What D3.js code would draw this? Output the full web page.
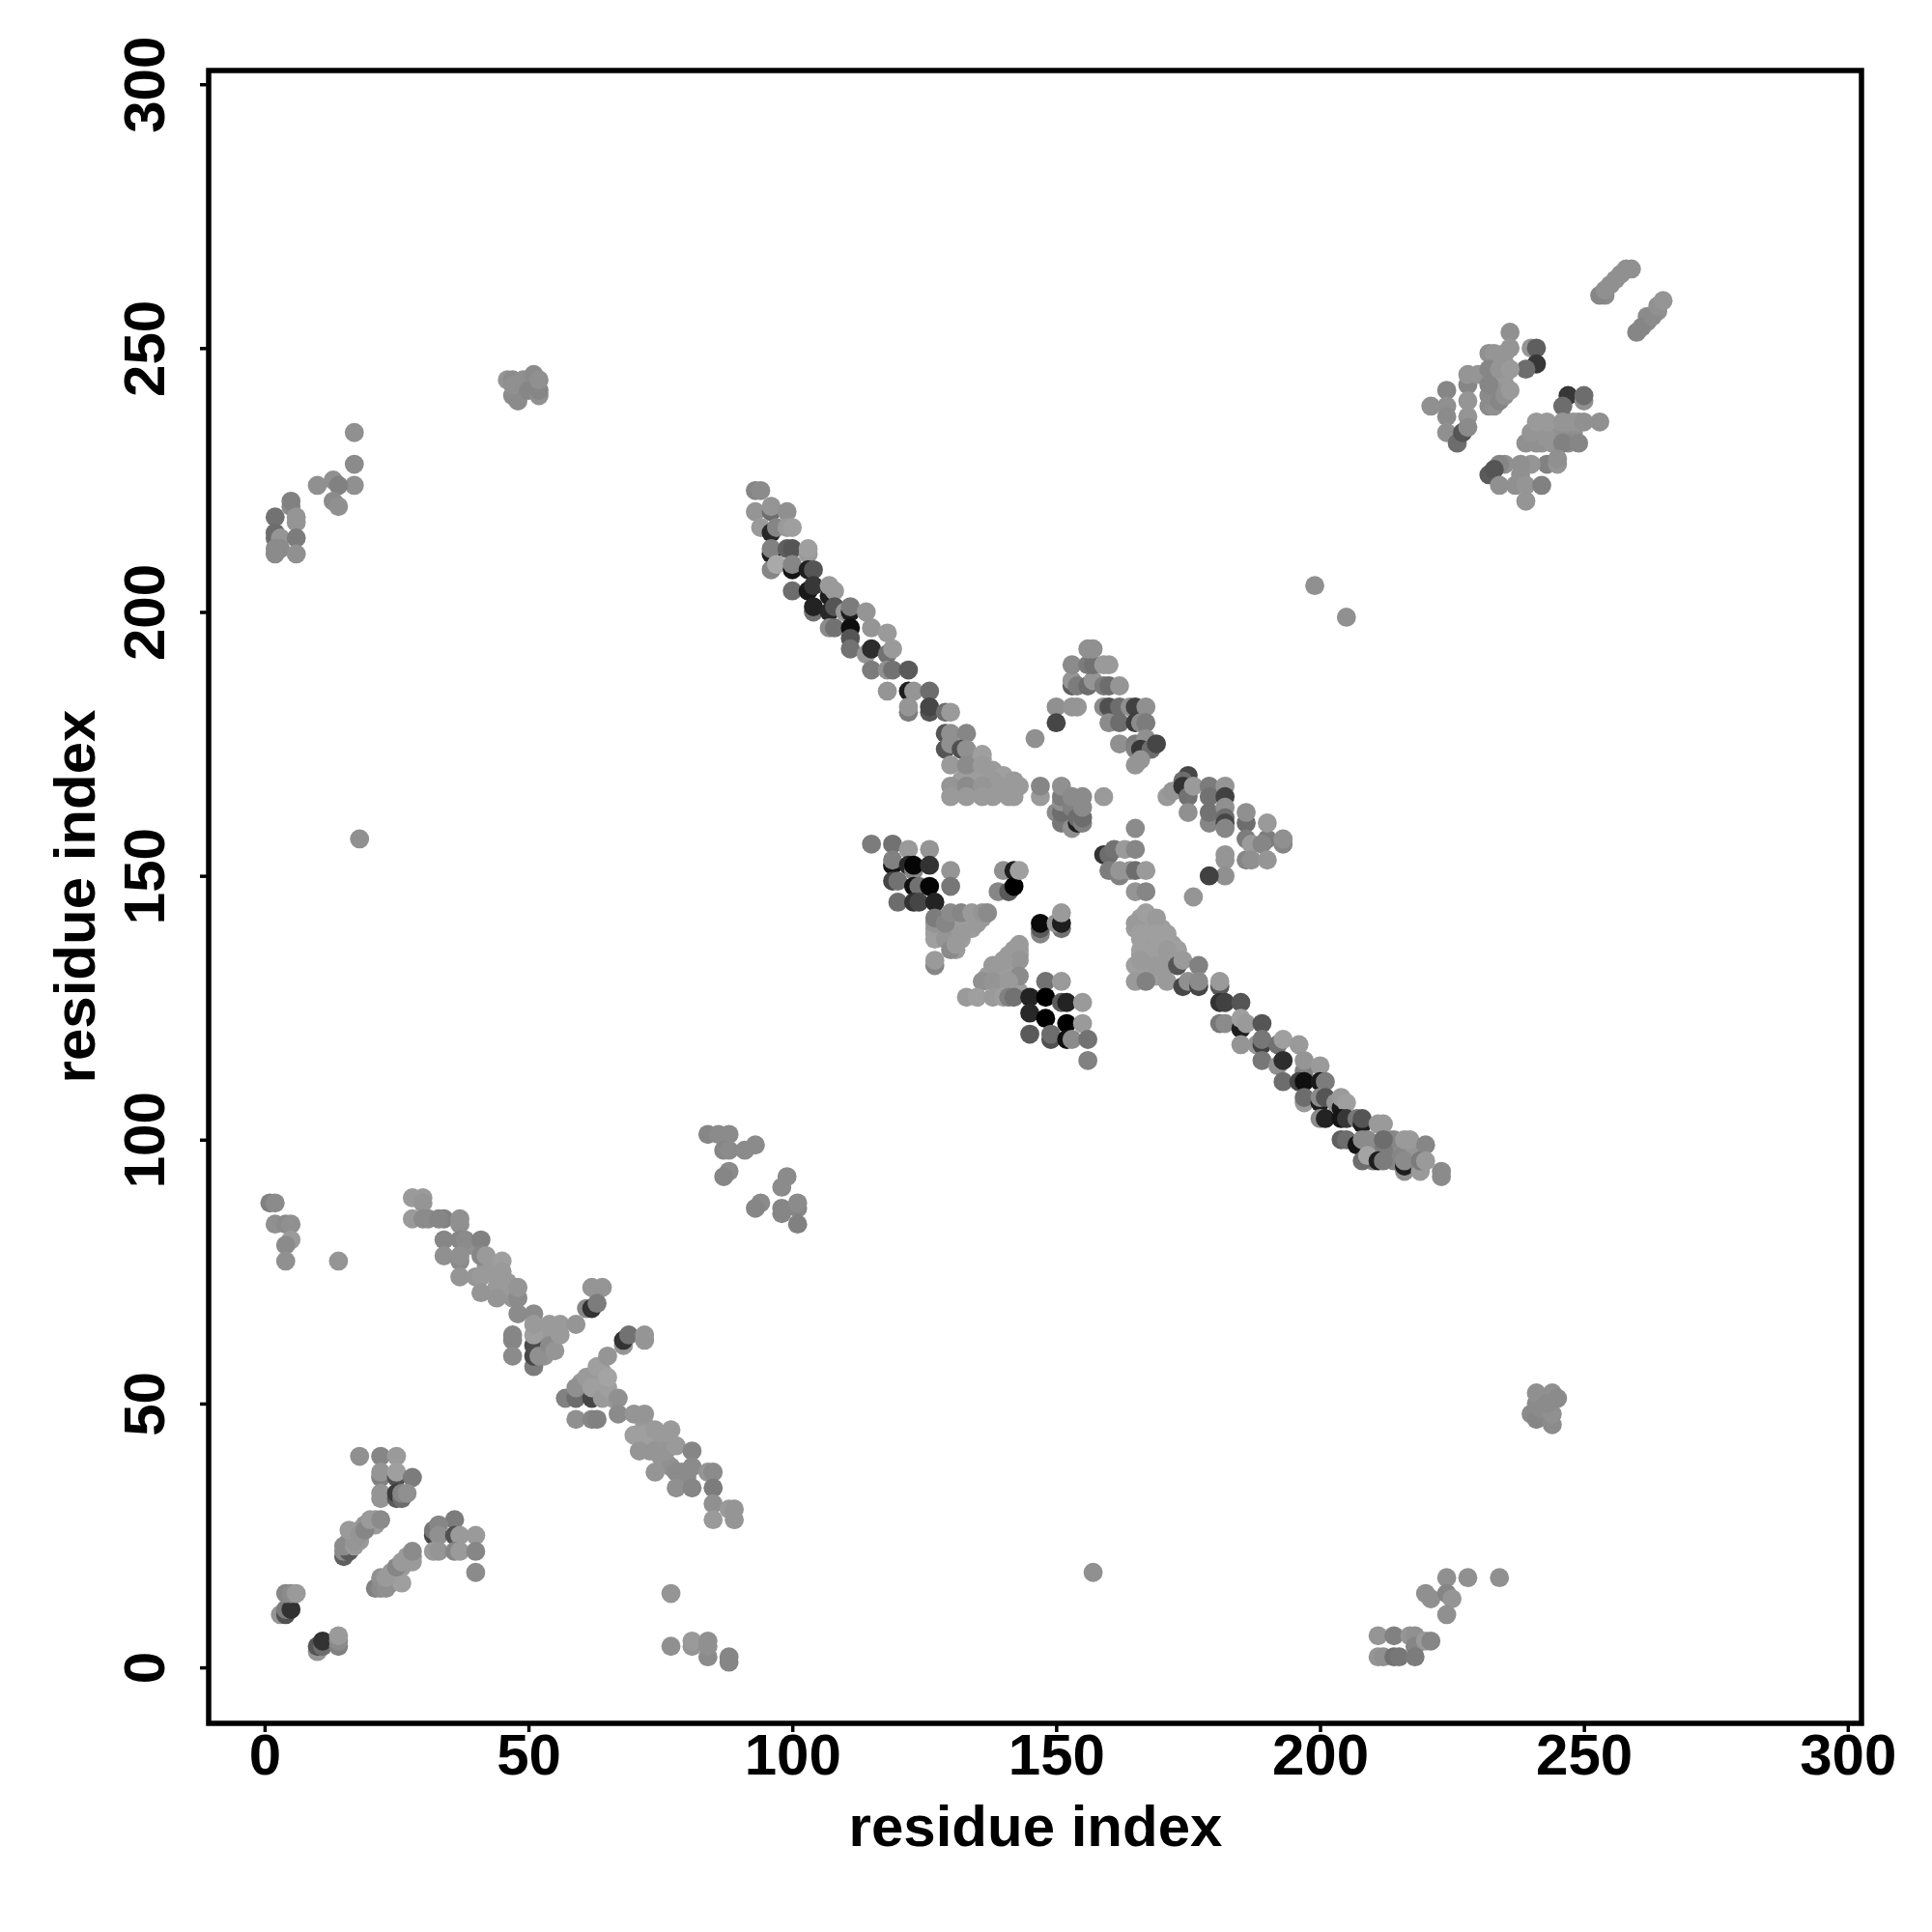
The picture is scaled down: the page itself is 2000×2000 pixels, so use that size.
<!DOCTYPE html>
<html><head><meta charset="utf-8">
<script src="https://cdn.jsdelivr.net/npm/d3@7"></script>
<style>html,body{margin:0;padding:0;background:#fff}svg{display:block}text{font-family:"Liberation Sans",Arial,sans-serif;font-weight:700;fill:#000}</style>
</head><body><div id="chart"></div>
<script>
const tickValues=[0,50,100,150,200,250,300];
const xTitle="residue index", yTitle="residue index";
// each contact: residue i, residue j, grey level
const fillTriangleUpper=[[131,166,148],[132,166,148],[134,166,148],[135,166,148],[137,166,148],[139,166,148],[140,166,148],[141,166,148],[132,168,148],[134,168,148],[135,168,148],[136,168,148],[137,168,148],[139,168,148],[140,168,148],[141,168,148],[133,170,148],[134,170,148],[135,170,148],[136,170,148],[137,170,148],[134,172,148],[135,172,148],[136,172,148]];
const fillTriangleLeft=[[127,139,148],[127,140,148],[128,142,148],[129,142,148],[130,142,148],[131,142,148],[132,142,148],[133,142,148],[134,142,148],[135,142,148],[136,142,148],[128,140,148],[130,140,148],[131,140,148],[132,140,148],[133,140,148],[134,140,148],[130,138,148],[131,138,148],[132,138,148],[131,136,148]];
const fillTriangleLower=[[143,136,148],[141,135,148],[142,135,148],[143,135,148],[139,133,148],[140,133,148],[141,133,148],[142,133,148],[137,131,148],[138,131,148],[139,131,148],[140,131,148],[141,131,148],[142,131,148],[139,129,148],[141,129,148],[142,129,148],[139,128,148],[141,128,148],[143,128,148]];
const fillTriangleRight=[[166,142,148],[168,142,148],[165,140,148],[166,140,148],[167,140,148],[168,140,148],[170,140,148],[166,138,148],[167,138,148],[168,138,148],[170,138,148],[171,138,148],[167,137,148],[169,137,148],[172,137,148],[166,135,148],[167,135,148],[168,135,148],[170,135,148],[172,135,148],[167,133,148],[168,133,148],[170,133,148],[166,132,148],[168,132,148],[170,132,148],[166,131,148],[168,131,148],[169,131,148],[170,131,148]];
const fillDiagLow=[[39,80,135],[42,76,140],[43,75,145],[43,76,145],[44,72,145],[46,73,145],[47,70,140],[46,71,140],[52,62,145],[53,64,145],[53,61,145],[52,64,145],[55,64,145],[54,63,145],[53,59,140],[60,54,145],[61,52,145],[62,55,148],[63,54,148],[63,52,148],[64,56,148],[63,55,148],[64,54,148],[65,52,148],[66,51,145],[73,45,145],[74,43,145],[75,43,145],[76,42,145],[72,46,145],[71,44,145],[73,41,140],[75,40,140],[76,39,140],[77,38,135],[79,37,135],[80,36,130],[76,41,140]];
const fillHelix=[[18,26,140],[21,28,145],[21,27,145],[16,24,145],[18,24,145],[19,27,140],[24,18,145],[25,18,145],[26,19,145],[27,21,145],[28,21,140],[24,16,140]];
const fillTop=[[233,243,140],[233,245,140],[233,247,140],[234,242,140],[234,244,145],[234,246,145],[234,248,140],[235,243,140],[235,245,145],[235,247,140],[235,249,140],[242,234,140],[244,234,140],[245,235,140],[247,234,135],[248,234,135],[244,232,140],[245,233,135],[242,232,140],[247,236,140],[248,236,140],[247,232,130],[255,262,135],[257,264,135],[254,260,130],[262,255,130],[262,256,130],[264,257,135]];
const fillDiagUp=[[210,99,130],[213,98,130],[214,97,125],[215,97,125],[214,100,130],[213,100,125],[218,98,140],[209,98,130],[210,96,125],[214,96,125]];
const singles=[[18,157,135],[157,18,135],[199,205,135],[205,199,135],[14,77,140],[77,14,140],[176,146,140],[146,176,135],[159,165,145]];
const cornerLowLeft=[[10,3,140],[10,4,85],[11,4,100],[11,5,50],[14,4,120],[14,5,130],[14,6,145],[3,10,140],[4,10,80],[4,11,115],[5,11,50],[4,14,125],[5,14,130],[6,14,145]];
const helixStripA=[[15,21,95],[15,22,130],[16,22,90],[15,23,130],[17,23,145],[17,24,140],[16,26,145],[18,25,140],[19,26,125],[20,28,145],[22,28,130]];
const helixStripB=[[21,15,120],[22,15,130],[23,15,135],[26,16,150],[22,17,135],[23,17,145],[25,19,125],[26,20,145],[28,20,145],[28,22,130]];
const blockUpper=[[18,40,135],[22,40,125],[25,40,145],[22,36,120],[22,37,140],[25,36,80],[25,37,150],[28,36,115],[22,32,140],[22,33,140],[25,32,90],[25,33,60],[26,32,100],[26,33,125],[27,33,135]];
const blockRight=[[36,28,115],[32,25,70],[32,26,110],[33,27,125],[33,25,135],[36,25,80],[37,25,145],[40,25,145],[32,22,145],[33,22,140],[36,22,125],[37,22,145],[40,22,125],[40,18,130]];
const diagLowA=[[1,88,120],[2,88,130],[2,84,135],[4,84,130],[5,84,135],[5,81,145],[4,80,130],[4,77,135],[28,89,145],[30,89,145],[30,88,140],[28,85,145],[30,85,130],[31,85,130],[34,85,120],[33,85,125],[37,84,135],[37,85,135],[34,81,125],[37,81,125],[38,81,130],[41,81,120],[34,78,135],[37,77,130],[37,78,135],[41,78,125],[42,78,145],[45,77,150],[37,74,140],[40,74,140],[41,74,145],[44,74,145],[45,75,145],[45,72,145],[41,71,140],[44,70,140],[48,70,130],[48,72,140],[48,67,130],[51,67,130]];
const diagLowB=[[47,62,125],[47,63,125],[47,59,130],[51,57,115],[51,59,70],[51,61,75],[52,59,135],[51,63,150],[51,65,145],[54,61,130],[54,65,145],[55,60,140],[56,63,145],[56,65,145],[59,65,140],[62,72,140],[64,72,140],[61,68,125],[62,68,50],[63,69,115],[68,61,140],[68,62,50],[69,63,105],[72,62,140],[72,63,140],[57,51,120],[59,51,100],[62,51,70],[59,53,135],[61,55,145],[62,53,150],[63,57,150],[64,51,145],[65,53,150],[65,55,155],[65,59,140],[67,51,135],[59,47,135],[62,47,125],[63,47,120],[67,48,130]];
const diagLowC=[[70,48,140],[72,48,140],[70,44,150],[72,44,150],[74,45,145],[77,45,145],[71,41,140],[74,41,140],[78,42,145],[81,41,125],[74,37,140],[78,37,130],[81,38,130],[78,34,135],[81,34,125],[84,37,140],[85,37,130],[85,34,115],[85,31,135],[85,28,145],[88,30,145],[89,30,140],[89,28,140],[77,4,135],[81,4,140],[81,5,145],[84,2,130],[84,4,135],[84,5,135],[88,1,125],[88,2,125]];
const midBlock=[[84,101,125],[86,101,130],[88,101,130],[87,98,125],[88,98,130],[91,98,130],[93,99,130],[88,94,130],[87,93,125],[99,93,130],[98,91,130],[94,88,130],[93,87,125],[98,86,125],[98,87,125],[101,87,125],[101,88,130],[101,84,120]];
const topLeft=[[17,234,135],[17,228,130],[10,224,135],[17,224,135],[13,225,135],[14,224,120],[13,221,130],[14,220,135],[5,220,130],[5,221,120],[6,217,140],[6,218,140],[2,218,105],[2,214,100],[2,215,100],[3,214,140],[6,214,115],[2,212,130],[3,212,130],[6,211,135],[2,211,130]];
const topLeftBlob=[[46,244,140],[47,244,130],[47,241,130],[48,240,130],[47,243,135],[49,244,135],[50,242,125],[51,245,130],[52,241,135],[52,242,125],[52,244,135]];
const lowRightBlob=[[240,48,130],[241,47,125],[241,50,130],[241,52,135],[242,49,130],[244,46,130],[244,48,135],[244,52,135],[245,51,130],[243,50,130]];
const lowRight=[[224,17,135],[228,17,135],[234,17,135],[220,14,135],[221,13,135],[224,14,125],[225,13,140],[224,10,135],[211,6,140],[214,6,120],[217,6,140],[218,6,135],[218,4,125],[220,5,145],[221,5,125],[211,2,140],[212,2,135],[214,2,105],[215,2,110],[218,2,115]];
const topStrips=[[253,260,125],[254,261,135],[256,263,135],[258,265,135],[259,265,135],[260,253,125],[261,254,125],[263,256,130],[264,258,135],[265,259,140]];
const topCluster=[[236,253,135],[240,250,140],[241,250,95],[241,247,55],[239,246,100],[236,250,140],[232,249,135],[233,249,140],[228,243,125],[228,245,140],[230,245,140],[232,246,125],[234,246,140],[236,246,145],[232,239,130],[233,239,135],[232,241,130],[232,243,125],[234,240,125],[235,241,135],[236,242,145],[224,242,125],[221,239,135],[224,239,135],[224,237,130],[228,240,140],[228,237,140],[224,234,135],[226,232,100],[227,234,85],[228,235,130]];
const topClusterLow=[[247,241,55],[246,239,100],[250,240,135],[250,241,100],[253,236,135],[239,232,135],[241,232,135],[240,234,140],[241,236,145],[243,233,140],[243,236,145],[246,232,120],[246,236,140],[249,232,125],[249,236,140],[250,236,135],[243,228,120],[245,228,140],[245,229,135],[240,228,140],[238,228,135],[235,228,135],[234,228,125],[232,226,90],[233,227,85],[234,224,135],[237,224,135],[238,226,135],[239,224,140],[242,224,120],[239,221,140]];
const upperDiagA=[[93,223,125],[94,223,130],[93,219,140],[96,219,100],[96,220,140],[99,219,135],[94,216,145],[96,215,40],[97,216,125],[99,216,145],[100,216,150],[96,211,30],[96,212,120],[99,212,95],[100,212,85],[103,211,145],[103,212,150],[96,208,125],[97,209,160],[100,208,20],[100,209,125],[100,204,100],[103,208,30],[104,208,85],[103,204,25],[104,205,55],[104,200,105],[104,201,35]];
const upperDiagB=[[107,203,30],[107,205,145],[108,204,145],[107,200,40],[107,197,130],[108,197,105],[108,201,85],[110,200,145],[111,200,30],[111,201,115],[111,197,15],[111,195,85],[114,200,140],[115,197,140],[111,193,105],[114,192,140],[115,193,45],[118,196,145],[118,192,105],[119,193,145],[115,189,115],[118,189,135],[119,189,105],[122,189,90],[118,185,140],[122,185,30],[123,185,140],[126,185,100],[122,181,115],[122,182,140],[126,181,85],[126,182,70],[129,181,100],[130,181,145]];
const triangleUpper=[[129,177,85],[130,177,135],[133,177,125],[129,174,85],[130,175,135],[132,174,80],[133,174,135],[136,173,150],[130,171,145],[133,171,130],[136,171,145],[138,170,145],[140,169,150],[138,168,145],[142,168,145],[130,167,140],[133,167,130],[136,167,140],[140,167,145],[143,167,145],[130,165,145],[133,165,145],[136,165,145],[138,165,145],[141,165,145],[142,165,145]];
const centreColumn=[[147,165,145],[147,167,125],[150,162,130],[151,160,110],[151,162,100],[151,164,135],[151,165,115],[151,167,135],[153,159,135],[153,163,120],[153,165,130],[154,160,30],[154,161,100],[155,160,120],[155,161,100],[155,163,130],[155,165,130]];
const triangleApex=[[153,186,95],[153,187,140],[153,190,130],[154,186,115],[156,186,100],[157,187,140],[156,190,115],[157,190,105],[159,186,115],[160,186,100],[162,186,140],[159,190,145],[160,190,145],[156,193,135],[157,193,135],[150,182,135],[153,182,140],[154,182,140],[159,182,130],[160,182,80],[162,182,100],[164,182,135],[165,182,65],[167,182,135],[150,179,70],[160,179,130],[162,179,100],[165,179,60],[166,179,130],[167,179,115],[162,175,135],[165,175,115],[167,176,135],[165,174,120],[166,174,55],[168,174,100],[169,175,70],[165,171,140],[166,172,140]];
const rightArm=[[171,165,145],[172,166,140],[175,169,70],[174,168,100],[174,167,50],[175,165,105],[176,167,145],[179,167,115],[179,165,105],[175,162,135],[179,160,125],[179,162,105],[182,167,140],[182,165,65],[182,163,135],[182,161,100],[182,160,70],[182,159,125],[186,160,100],[186,162,135],[186,157,115],[186,153,125],[187,156,145],[187,153,135],[190,157,115],[190,160,145],[189,156,125],[190,153,140],[193,156,125],[193,157,135]];
const rightMid=[[165,159,130],[159,154,50],[160,154,100],[161,155,105],[163,155,145],[165,155,125],[160,151,115],[162,150,120],[162,151,140],[164,151,140],[165,151,100],[167,151,145],[165,147,140],[167,147,125],[182,154,140],[182,153,140],[182,150,135],[179,150,65]];
const darkBlockLeft=[[115,156,115],[119,156,105],[122,155,145],[126,155,140],[119,152,20],[119,153,120],[122,152,40],[123,151,125],[123,152,5],[126,152,50],[119,149,70],[120,149,105],[130,151,140],[130,148,110],[123,148,15],[124,148,105],[126,148,5],[120,145,100],[123,145,50],[124,145,70],[127,145,35]];
const triangleLeft=[[127,133,125],[127,134,145],[127,138,150],[127,141,140],[127,142,115],[129,138,140],[129,141,125],[130,136,130],[131,137,145],[132,139,145],[135,141,145],[130,143,130],[132,143,125],[134,143,145],[136,143,140],[137,143,130]];
const centreBlock=[[139,147,125],[140,151,135],[141,147,90],[142,151,30],[142,148,0],[143,151,150],[147,139,125],[147,140,90],[151,140,105],[147,141,10],[150,141,140],[151,141,30],[151,143,145]];
const triangleLower=[[143,137,145],[142,136,145],[143,134,140],[140,134,145],[138,133,145],[143,131,130],[136,130,135],[138,130,140],[141,130,145],[133,127,145],[135,127,150],[138,127,145],[140,127,150],[141,127,120],[142,127,105]];
const darkBlockLow=[[145,127,35],[148,130,105],[151,130,145],[148,127,0],[151,126,90],[152,126,35],[155,126,145],[145,124,40],[148,123,0],[152,122,0],[155,122,145],[145,120,90],[149,119,80],[149,120,100],[152,119,15],[153,119,130],[156,119,105],[156,115,120]];
const triangleRight=[[165,141,145],[167,143,150],[169,142,145],[166,139,150],[169,139,150],[171,139,150],[173,136,150],[166,136,150],[169,136,150],[171,136,145],[165,133,150],[166,134,145],[169,133,145],[171,133,145],[165,130,145],[167,130,120],[171,130,145],[173,133,85],[174,134,145],[177,133,120],[174,129,70],[175,130,135],[177,129,70],[177,130,130]];
const lowerDiagA=[[181,129,90],[181,130,145],[181,126,50],[182,126,65],[185,126,85],[181,122,110],[182,122,130],[185,121,30],[185,123,150],[186,122,145],[189,122,85],[185,118,140],[188,118,140],[189,118,65],[189,119,110],[192,118,105],[193,119,150],[196,118,145],[189,115,110],[192,114,135],[193,115,45],[197,113,120],[197,115,140],[200,114,145],[193,111,100],[196,111,70],[197,111,15],[200,111,25],[201,111,115]];
const lowerDiagB=[[197,107,145],[197,108,100],[200,107,30],[200,108,130],[201,108,85],[203,107,140],[204,106,25],[204,108,145],[205,107,150],[200,104,130],[201,104,35],[204,104,20],[205,104,55],[207,104,110],[208,103,30],[208,104,85],[211,103,145],[212,103,145],[204,100,95],[205,100,100],[207,99,20],[208,100,130],[209,100,130],[212,98,115],[212,100,100],[216,100,145],[217,100,145],[220,99,125],[208,96,100],[209,97,155],[211,96,30],[212,96,115],[216,94,135],[216,95,30],[216,96,130],[219,94,145],[219,96,115],[220,96,145],[223,93,130],[223,94,130]];

const contacts=[].concat(fillTriangleUpper,fillTriangleLeft,fillTriangleLower,fillTriangleRight,fillDiagLow,fillHelix,fillTop,fillDiagUp,singles,cornerLowLeft,helixStripA,helixStripB,blockUpper,blockRight,diagLowA,diagLowB,diagLowC,midBlock,topLeft,topLeftBlob,lowRightBlob,lowRight,topStrips,topCluster,topClusterLow,upperDiagA,upperDiagB,triangleUpper,centreColumn,triangleApex,rightArm,rightMid,darkBlockLeft,triangleLeft,centreBlock,triangleLower,darkBlockLow,triangleRight,lowerDiagA,lowerDiagB);

const svg=d3.select("#chart").append("svg").attr("width",2000).attr("height",2000);
svg.append("rect").attr("width",2000).attr("height",2000).attr("fill","#fff");
const x=d3.scaleLinear().domain([-10.6,302.6]).range([216,1927]);
const y=d3.scaleLinear().domain([-10.6,302.6]).range([1784,73]);

const shade=g=>{const v=g>=100?g+9:g;return d3.rgb(v,v,v);};
svg.append("g").selectAll("circle").data(contacts).join("circle")
  .attr("cx",d=>x(d[0])).attr("cy",d=>y(d[1])).attr("r",9.9)
  .attr("fill",d=>shade(d[2]));

svg.append("rect").attr("x",216).attr("y",73).attr("width",1711).attr("height",1711)
  .attr("fill","none").attr("stroke","#000").attr("stroke-width",5.5);

const gx=svg.append("g").attr("transform","translate(0,1784)")
  .call(d3.axisBottom(x).tickValues(tickValues).tickSize(9).tickPadding(0).tickFormat(d3.format("d")));
gx.select(".domain").remove();
gx.selectAll("line").attr("stroke","#000").attr("stroke-width",3.5);
gx.selectAll("text").attr("font-size",60).attr("dy",null).attr("y",53);

const gy=svg.append("g").attr("transform","translate(216,0)")
  .call(d3.axisLeft(y).tickValues(tickValues).tickSize(9).tickPadding(0).tickFormat(d3.format("d")));
gy.select(".domain").remove();
gy.selectAll("line").attr("stroke","#000").attr("stroke-width",3.5);
gy.selectAll("text").attr("font-size",60).attr("dy",null).attr("x",null).attr("y",null)
  .attr("text-anchor","middle").attr("transform","translate(-46,0) rotate(-90)");

svg.append("text").attr("x",1072).attr("y",1911).attr("text-anchor","middle").attr("font-size",60).text(xTitle);
svg.append("text").attr("transform","translate(98,928) rotate(-90)").attr("text-anchor","middle").attr("font-size",60).text(yTitle);
</script></body></html>
